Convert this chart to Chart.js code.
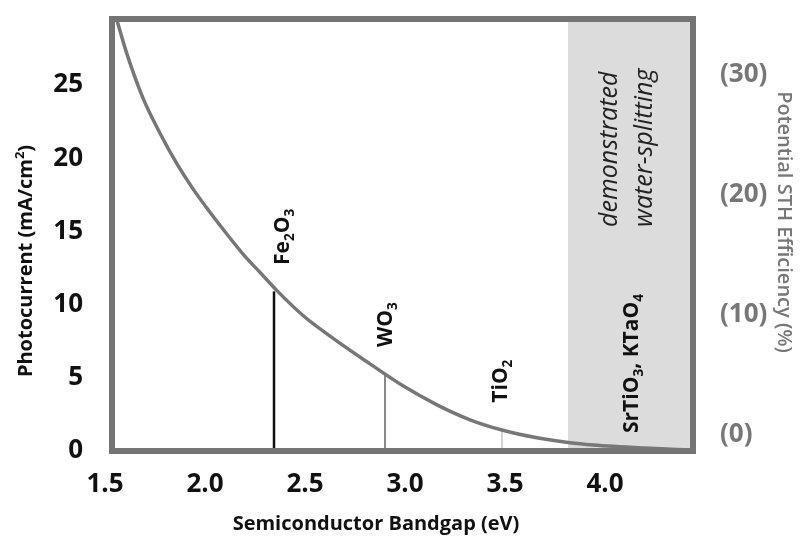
<!DOCTYPE html>
<html lang="en">
<head>
<meta charset="UTF-8">
<title>Photocurrent vs semiconductor bandgap</title>
<script src="https://cdn.jsdelivr.net/npm/chart.js"></script>
<style>
    body { margin: 0; background: #fff; }
</style>
</head>
<body>
<canvas id="myChart" width="803" height="547"></canvas>
<script>
    // values
    const bandgap = [1.56, 1.61, 1.69, 1.775, 1.86, 1.94, 2.025, 2.11, 2.19, 2.275, 2.36, 2.49, 2.66, 2.825, 2.99, 3.16, 3.325, 3.485, 3.66, 3.825, 3.94, 4.2, 4.44];
    const photocurrent = [29.4, 27.1, 24.1, 21.7, 19.6, 17.9, 16.3, 14.8, 13.45, 12.2, 10.95, 9.25, 7.5, 5.95, 4.45, 3.15, 2.13, 1.43, 0.9, 0.56, 0.41, 0.2, 0.06];
    const materials = ['Fe2O3', 'WO3', 'TiO2'];
    const materialGap = [2.345, 2.9, 3.485];
    const materialCurrent = [10.9, 5.2, 1.45];
    const demoStart = 3.815;
    const xTicks = [1.5, 2.0, 2.5, 3.0, 3.5, 4.0];
    const yTicks = [0, 5, 10, 15, 20, 25];
    const sthTicks = [0, 10, 20, 30];

    const xMin = 1.535, xMax = 4.44, yMax = 29.5;
    const lineColors = ['#111111', '#8a8a8a', '#c4c4c4'];
    const lineWidths = [2.5, 2, 1.5];
    const FONT = '"Open Sans", "DejaVu Sans", sans-serif';

    // draw (rotated) text made of pieces, some of them sub/superscript
    function drawRich(ctx, parts, x, y, opts) {
        const size = opts.size;
        const font = (s) => (opts.style || '') + ' ' + (opts.weight || 'normal') + ' ' + s + 'px ' + FONT;
        ctx.save();
        ctx.translate(x, y);
        ctx.rotate(opts.angle || 0);
        ctx.fillStyle = opts.color || '#111';
        ctx.textBaseline = 'alphabetic';
        ctx.textAlign = 'left';
        let total = 0;
        parts.forEach(p => {
            ctx.font = font(p[1] ? size * 0.65 : size);
            total += ctx.measureText(p[0]).width;
        });
        let cx = opts.center ? -total / 2 : 0;
        parts.forEach(p => {
            ctx.font = font(p[1] ? size * 0.65 : size);
            let dy = 0;
            if (p[1] === 'sub') dy = size * 0.22;
            if (p[1] === 'sup') dy = -size * 0.4;
            ctx.fillText(p[0], cx, dy);
            cx += ctx.measureText(p[0]).width;
        });
        ctx.restore();
    }

    const labelPlugin = {
        id: 'labels',
        afterDraw(chart) {
            const ctx = chart.ctx;
            const a = chart.chartArea;
            const xs = chart.scales.x, ys = chart.scales.y;
            const up = -Math.PI / 2;

            // frame
            ctx.save();
            ctx.strokeStyle = '#747474';
            ctx.lineWidth = 6;
            ctx.strokeRect(a.left, a.top, a.right - a.left, a.bottom - a.top);
            ctx.restore();

            const chem = {size: 21, weight: 'bold', angle: up, color: '#111'};
            drawRich(ctx, [['Fe'], ['2', 'sub'], ['O'], ['3', 'sub']], xs.getPixelForValue(2.42), ys.getPixelForValue(12.7), chem);
            drawRich(ctx, [['WO'], ['3', 'sub']], xs.getPixelForValue(2.935), ys.getPixelForValue(7.1), chem);
            drawRich(ctx, [['TiO'], ['2', 'sub']], xs.getPixelForValue(3.51), ys.getPixelForValue(3.3), chem);
            drawRich(ctx, [['SrTiO'], ['3', 'sub'], [', KTaO'], ['4', 'sub']], xs.getPixelForValue(4.165), ys.getPixelForValue(1.23), chem);

            const note = {size: 25, style: 'italic', angle: up, color: '#222'};
            drawRich(ctx, [['demonstrated']], xs.getPixelForValue(4.06), ys.getPixelForValue(15.3), note);
            drawRich(ctx, [['water-splitting']], xs.getPixelForValue(4.235), ys.getPixelForValue(15.3), note);

            // axis titles
            drawRich(ctx, [['Photocurrent (mA/cm'], ['2', 'sup'], [')']], 32, 261, {size: 20, weight: 'bold', angle: up, center: true});
            drawRich(ctx, [['Semiconductor Bandgap (eV)']], 376, 530, {size: 20, weight: 'bold', center: true});
            drawRich(ctx, [['Potential STH Efficiency (%)']], 778, 222, {size: 20, weight: '600', angle: Math.PI / 2, center: true, color: '#777'});
        }
    };

    const datasets = [{
        data: bandgap.map((e, i) => ({x: e, y: photocurrent[i]})),
        borderColor: '#777',
        borderWidth: 3.5,
        pointRadius: 0,
        cubicInterpolationMode: 'monotone',
        fill: false
    }];
    materials.forEach((m, i) => {
        datasets.push({
            label: m,
            data: [{x: materialGap[i], y: 0}, {x: materialGap[i], y: materialCurrent[i]}],
            borderColor: lineColors[i],
            borderWidth: lineWidths[i],
            pointRadius: 0,
            fill: false
        });
    });
    datasets.push({
        label: 'demonstrated water-splitting',
        data: [{x: demoStart, y: yMax}, {x: xMax, y: yMax}],
        borderWidth: 0,
        pointRadius: 0,
        backgroundColor: '#dcdcdc',
        fill: 'origin'
    });

    const tickFont = {family: FONT, size: 26, weight: 'bold'};
    const noPad = s => { s.paddingTop = 0; s.paddingBottom = 0; s.paddingLeft = 0; s.paddingRight = 0; };

    new Chart(document.getElementById('myChart'), {
        type: 'line',
        data: {datasets: datasets},
        options: {
            responsive: false,
            animation: false,
            layout: {padding: {top: 19, left: 0, right: 0, bottom: 0}},
            plugins: {legend: {display: false}, tooltip: {enabled: false}},
            scales: {
                x: {
                    type: 'linear',
                    min: xMin,
                    max: xMax,
                    afterBuildTicks: s => { s.ticks = xTicks.map(v => ({value: v})); },
                    afterFit: s => { s.height = 96; noPad(s); },
                    grid: {display: false},
                    border: {display: false},
                    ticks: {font: tickFont, color: '#111', padding: 10, maxRotation: 0, autoSkip: false,
                        callback: v => v.toFixed(1)}
                },
                y: {
                    min: 0,
                    max: yMax,
                    afterBuildTicks: s => { s.ticks = yTicks.map(v => ({value: v})); },
                    afterFit: s => { s.width = 112; noPad(s); },
                    grid: {display: false},
                    border: {display: false},
                    ticks: {font: tickFont, color: '#111', padding: 21}
                },
                y2: {
                    position: 'right',
                    min: -1.33,
                    max: 34.67,
                    afterBuildTicks: s => { s.ticks = sthTicks.map(v => ({value: v})); },
                    afterFit: s => { s.width = 110; noPad(s); },
                    grid: {display: false},
                    border: {display: false},
                    ticks: {font: tickFont, color: '#777', padding: 19, callback: v => '(' + v + ')'}
                }
            }
        },
        plugins: [labelPlugin]
    });
</script>
</body>
</html>
